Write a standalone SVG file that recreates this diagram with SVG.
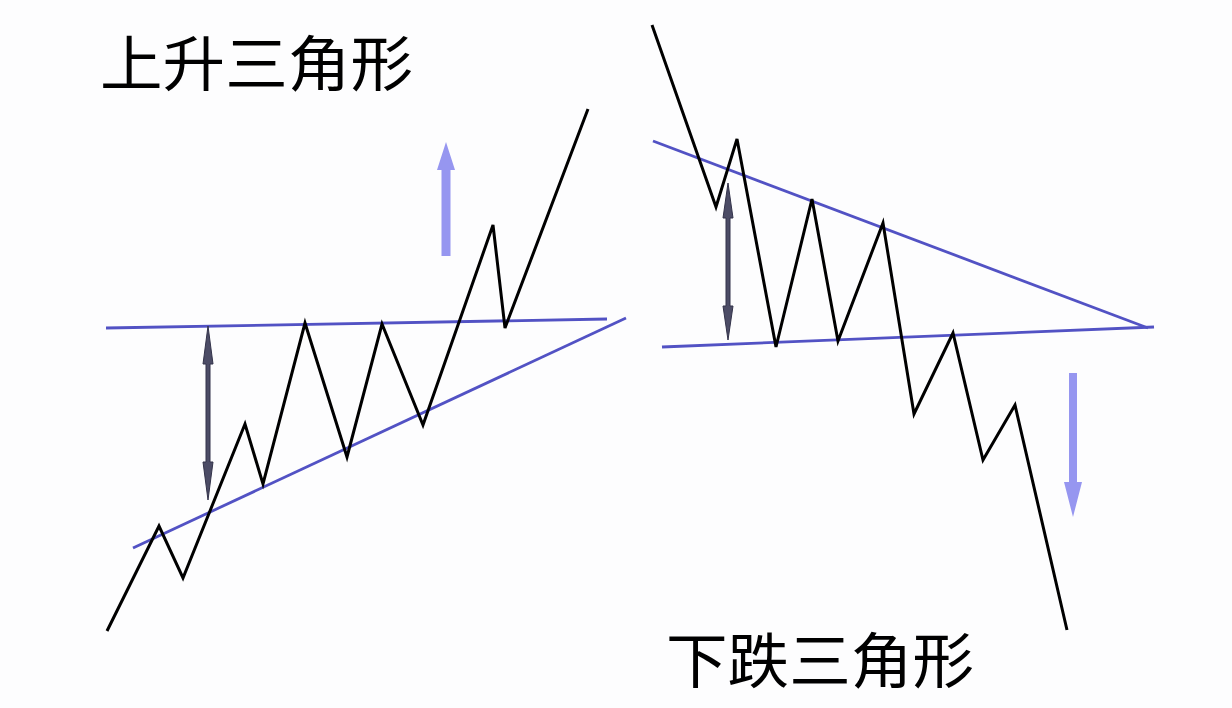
<svg xmlns="http://www.w3.org/2000/svg" width="1232" height="708" viewBox="0 0 1232 708">
<style>
.price{fill:none;stroke:#000;stroke-width:3;stroke-linejoin:miter;stroke-linecap:butt}
.trend{fill:none;stroke:#5252c4;stroke-width:2.8}
.measure{fill:#4c4c66;stroke:#33334a;stroke-width:1}
.dir{fill:#9696f0}
.title{font-family:"Noto Sans CJK SC","Noto Sans CJK JP",sans-serif;font-size:60px;font-weight:400;fill:#000}
</style>
<rect width="1232" height="708" fill="#fdfdfe"/>
<g id="ascending">
<g id="asc-trendlines">
<line class="trend" x1="106" y1="328" x2="607" y2="319"/>
<line class="trend" x1="133" y1="548" x2="626" y2="318"/>
</g>
<polyline id="asc-price" class="price" points="107,631 159,526 183,578 245,424 263,484 305,323 347,457 382,324 423,425 493,225 505,328 588,109"/>
<path id="asc-measure" class="measure" d="M208,326 L213,364 L210,364 L210,462 L213,462 L208,500 L203,462 L206,462 L206,364 L203,364 Z"/>
<path id="asc-up" class="dir" d="M446,142 L455,170 L450.5,170 L450.5,256 L441.5,256 L441.5,170 L437,170 Z"/>
<text id="asc-title" class="title" x="100" y="86" textLength="313" lengthAdjust="spacingAndGlyphs">上升三角形</text>
</g>
<g id="descending">
<g id="desc-trendlines">
<line class="trend" x1="653" y1="141" x2="1148" y2="328"/>
<line class="trend" x1="662" y1="347" x2="1154" y2="327"/>
</g>
<polyline id="desc-price" class="price" points="652,25 716,207 737,139 776,347 812,199 838,341 883,223 914,414 953,333 983,460 1015,405 1067,630"/>
<path id="desc-measure" class="measure" d="M728,183 L733,218 L730,218 L730,306 L733,306 L728,340 L723,306 L726,306 L726,218 L723,218 Z"/>
<path id="desc-down" class="dir" d="M1069,373 L1077,373 L1077,482 L1082,482 L1073,517 L1064,482 L1069,482 Z"/>
<text id="desc-title" class="title" x="666" y="683" textLength="308" lengthAdjust="spacingAndGlyphs">下跌三角形</text>
</g>
</svg>
